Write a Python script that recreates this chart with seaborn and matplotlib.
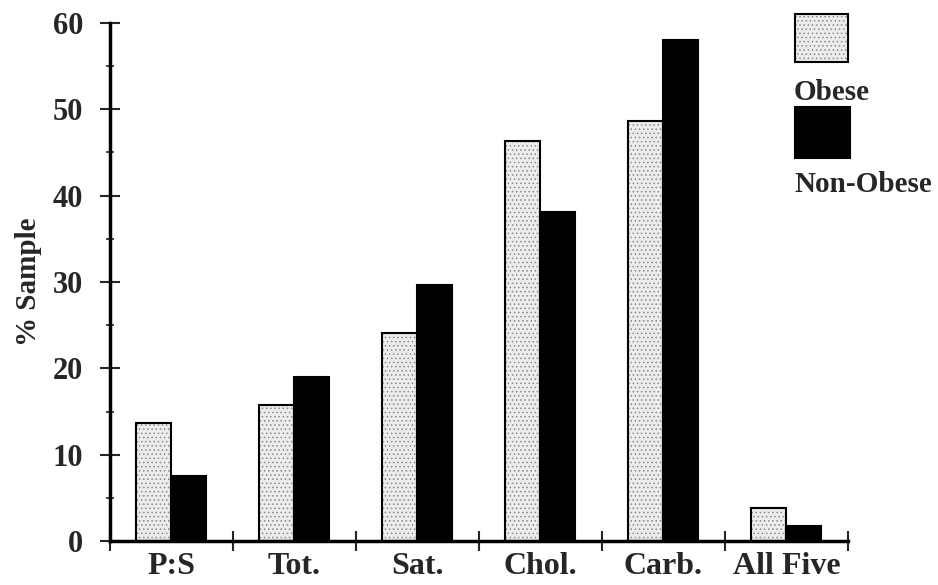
import matplotlib
matplotlib.use("Agg")
import matplotlib.pyplot as plt
import seaborn as sns
import pandas as pd
from matplotlib.patches import Rectangle
from matplotlib.ticker import MultipleLocator, FixedLocator

categories = ["P:S", "Tot.", "Sat.", "Chol.", "Carb.", "All Five"]
obese = [13.7, 15.8, 24.1, 46.3, 48.6, 3.8]
non_obese = [7.5, 19.0, 29.6, 38.1, 58.0, 1.8]
series = ["Obese", "Non-Obese"]
y_ticks = [0, 10, 20, 30, 40, 50, 60]

df = pd.DataFrame({
    "category": categories * 2,
    "value": obese + non_obese,
    "group": [series[0]] * len(categories) + [series[1]] * len(categories),
})

sns.set_theme(style="ticks")
plt.rcParams["font.family"] = ["Liberation Serif", "DejaVu Serif"]
plt.rcParams["font.weight"] = "bold"
plt.rcParams["hatch.linewidth"] = 0.6

fig = plt.figure(figsize=(9.38, 5.85), dpi=100)
ax = fig.add_axes([0.117, 0.075, 0.787, 0.886])

light = "#ececec"
hatch_col = matplotlib.colors.to_rgba("#8a8a8a")
sns.barplot(data=df, x="category", y="value", hue="group", order=categories,
            hue_order=series, palette=[light, "black"], width=0.57,
            edgecolor="black", linewidth=1.5, legend=False, ax=ax, saturation=1)

n = len(categories)
for p in ax.patches[:n]:
    p.set_hatch("....")
    p.set_facecolor(light)
    p.set_edgecolor("black")
    p._hatch_color = hatch_col

ax.set_xlim(-0.5, n - 0.5)
ax.set_ylim(0, 60)
ax.yaxis.set_major_locator(FixedLocator(y_ticks))
ax.yaxis.set_minor_locator(MultipleLocator(5))
ax.xaxis.set_major_locator(FixedLocator([i + 0.5 for i in range(-1, n)]))
ax.xaxis.set_minor_locator(FixedLocator(list(range(n))))
ax.set_xticklabels([])
ax.set_xticklabels(categories, minor=True)
ax.tick_params(axis="x", which="minor", length=0, labelsize=23, pad=8)
ax.tick_params(axis="x", which="major", direction="inout", length=14, width=1.5)
ax.tick_params(axis="y", which="major", direction="inout", length=14, width=1.5,
               labelsize=22, pad=12)
ax.tick_params(axis="y", which="minor", direction="inout", length=6, width=1.2)
for lbl in ax.get_xticklabels(minor=True) + ax.get_yticklabels():
    lbl.set_fontweight("bold")

ax.set_xlabel("")
ax.set_ylabel("% Sample", fontsize=21, fontweight="bold", labelpad=8)
for s in ["top", "right"]:
    ax.spines[s].set_visible(False)
for s in ["left", "bottom"]:
    ax.spines[s].set_linewidth(2.5)
    ax.spines[s].set_color("black")

# legend (figure-level artwork)
W, H = 938, 585
def fx(x):
    return x / W
def fy(y):
    return 1 - y / H
r1 = Rectangle((fx(795), fy(62)), fx(53), 48 / H, transform=fig.transFigure,
               facecolor=light, edgecolor="black", linewidth=1.5, hatch="....")
r1._hatch_color = hatch_col
r2 = Rectangle((fx(795), fy(158)), fx(55), 51 / H, transform=fig.transFigure,
               facecolor="black", edgecolor="black", linewidth=1.5)
fig.patches.extend([r1, r2])
fig.text(fx(794), fy(93), series[0], fontsize=21, fontweight="bold",
         va="center", ha="left")
fig.text(fx(794), fy(185), series[1], fontsize=21, fontweight="bold",
         va="center", ha="left")

fig.savefig("out.png", dpi=100)
